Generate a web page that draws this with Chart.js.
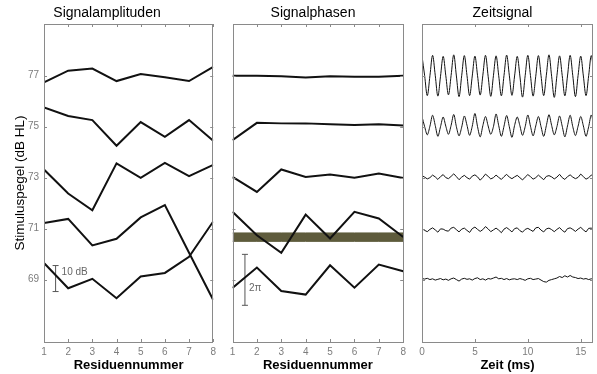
<!DOCTYPE html>
<html lang="de">
<head>
<meta charset="utf-8">
<script src="https://cdn.jsdelivr.net/npm/chart.js@4.4.1/dist/chart.umd.min.js"></script>
<style>
    html, body { margin: 0; padding: 0; background: #fff; }
    #wrap { position: relative; width: 597px; height: 374px; overflow: hidden; }
    canvas { position: absolute; top: 0; }
</style>
</head>
<body>
<div id="wrap">
    <canvas id="ampChart" width="220" height="374" style="left:0px"></canvas>
    <canvas id="phaseChart" width="188" height="374" style="left:222px"></canvas>
    <canvas id="zeitChart" width="185" height="374" style="left:412px"></canvas>
</div>
<script>
// Achsen
const residuen = [1, 2, 3, 4, 5, 6, 7, 8];
const pegelTicks = [69, 71, 73, 75, 77];
const zeitTicks = [0, 5, 10, 15];

// Signalamplituden (eine Kurve pro Pegel)
const amp77 = [76.74, 77.20, 77.28, 76.79, 77.07, 76.94, 76.79, 77.35];
const amp75 = [75.76, 75.42, 75.26, 74.25, 75.18, 74.60, 75.26, 74.45];
const amp73 = [73.32, 72.38, 71.72, 73.56, 72.99, 73.58, 73.06, 73.50];
const amp71 = [71.22, 71.38, 70.34, 70.60, 71.44, 71.92, 70.05, 68.20];
const amp69 = [69.65, 68.66, 69.03, 68.27, 69.12, 69.26, 69.89, 71.28];

// Signalphasen
const ph77 = [77.00, 77.00, 76.98, 76.93, 76.98, 76.96, 76.96, 77.00];
const ph75 = [74.47, 75.15, 75.13, 75.13, 75.10, 75.07, 75.10, 75.05];
const ph73 = [73.03, 72.44, 73.32, 73.03, 73.12, 73.00, 73.16, 72.99];
const ph71 = [71.66, 70.74, 70.05, 71.55, 70.61, 71.66, 71.40, 70.67];
const ph69 = [68.67, 69.47, 68.55, 68.41, 69.56, 68.68, 69.59, 69.33];

// Balken in den Phasen
const bandUnten = 70.50;
const bandOben = 70.83;

// Skalenbalken
const ampSkalaX = 1.48;
const ampSkala = [68.53, 69.55];
const phSkalaX = 1.51;
const phSkala = [67.99, 69.99];

// Zeitsignal (ms)
const zeitMs = [
    0, 0.25, 0.5, 0.75, 1, 1.25, 1.5, 1.75, 2, 2.25, 2.5, 2.75, 3, 3.25, 3.5, 3.75,
    4, 4.25, 4.5, 4.75, 5, 5.25, 5.5, 5.75, 6, 6.25, 6.5, 6.75, 7, 7.25, 7.5, 7.75,
    8, 8.25, 8.5, 8.75, 9, 9.25, 9.5, 9.75, 10, 10.25, 10.5, 10.75, 11, 11.25, 11.5, 11.75,
    12, 12.25, 12.5, 12.75, 13, 13.25, 13.5, 13.75, 14, 14.25, 14.5, 14.75, 15, 15.25, 15.5, 15.75,
    16, 16.25
];
const zeit77 = [
    77.78, 77.00, 76.22, 77.00, 77.80, 77.02, 76.20, 76.98, 77.76, 77.00, 76.25, 77.01, 77.82, 76.99, 76.18, 77.00,
    77.79, 77.01, 76.22, 76.99, 77.77, 77.00, 76.24, 77.02, 77.80, 76.98, 76.19, 77.00, 77.78, 77.00, 76.21, 77.01,
    77.81, 77.02, 76.23, 76.99, 77.76, 76.99, 76.16, 77.00, 77.80, 77.01, 76.20, 76.98, 77.79, 77.00, 76.22, 77.02,
    77.82, 76.98, 76.15, 77.00, 77.78, 77.01, 76.21, 76.99, 77.80, 77.00, 76.18, 77.01, 77.77, 76.99, 76.22, 77.00,
    77.79, 77.00
];
const zeit75 = [
    75.40, 75.00, 74.68, 75.02, 75.45, 75.05, 74.62, 75.00, 75.38, 75.02, 74.70, 75.05, 75.48, 75.00, 74.64, 74.98,
    75.42, 75.06, 74.66, 75.02, 75.52, 75.00, 74.60, 75.04, 75.40, 75.03, 74.70, 75.00, 75.50, 75.04, 74.62, 75.02,
    75.44, 75.00, 74.58, 75.05, 75.38, 75.04, 74.66, 75.00, 75.46, 75.02, 74.64, 75.03, 75.40, 75.00, 74.62, 75.04,
    75.47, 75.05, 74.68, 75.00, 75.42, 75.02, 74.60, 75.03, 75.45, 75.00, 74.65, 75.02, 75.40, 75.03, 74.62, 75.00,
    75.46, 75.02
];
const zeit73 = [
    73.08, 73.02, 72.95, 73.00, 73.10, 73.03, 72.93, 73.04, 73.12, 73.00, 72.96, 73.05, 73.15, 73.04, 72.92, 73.02,
    73.09, 73.00, 72.94, 73.06, 73.11, 73.03, 72.90, 73.01, 73.14, 73.05, 72.95, 73.00, 73.10, 73.01, 72.93, 73.04,
    73.13, 73.02, 72.96, 73.03, 73.09, 73.00, 72.91, 73.02, 73.12, 73.04, 72.94, 73.00, 73.10, 73.01, 72.92, 73.05,
    73.08, 73.03, 72.95, 73.02, 73.13, 73.00, 72.93, 73.04, 73.11, 73.02, 72.96, 73.01, 73.14, 73.04, 72.94, 73.00,
    73.10, 73.02
];
const zeit71 = [
    71.00, 70.93, 70.88, 70.97, 71.03, 70.95, 70.86, 70.99, 70.98, 70.92, 70.90, 71.02, 71.05, 70.96, 70.87, 70.98,
    71.02, 70.93, 70.85, 71.00, 71.06, 70.97, 70.89, 70.96, 71.08, 70.99, 70.88, 70.95, 71.02, 70.94, 70.84, 70.98,
    71.04, 70.96, 70.87, 71.00, 71.03, 70.92, 70.86, 70.97, 71.01, 70.95, 70.89, 71.03, 71.05, 70.94, 70.87, 70.99,
    71.02, 70.96, 70.88, 70.97, 71.04, 70.93, 70.86, 71.00, 71.03, 70.97, 70.89, 70.98, 71.05, 70.95, 70.87, 71.01,
    71.02, 70.94
];
const zeit69 = [
    69.04, 69.02, 69.05, 69.00, 69.03, 68.98, 69.01, 69.04, 68.99, 69.02, 68.97, 69.03, 69.06, 69.00, 68.94, 69.02,
    69.05, 69.01, 69.03, 68.98, 69.04, 69.07, 69.00, 69.03, 68.98, 69.04, 69.02, 69.06, 69.10, 69.03, 69.05, 69.00,
    69.04, 68.99, 69.02, 69.03, 69.00, 69.04, 69.01, 68.97, 69.03, 69.05, 69.00, 69.02, 69.04, 68.98, 68.92, 68.90,
    68.97, 69.00, 69.03, 69.06, 69.12, 69.08, 69.15, 69.10, 69.16, 69.10, 69.08, 69.04, 69.06, 69.02, 69.04, 69.00,
    69.03, 69.02
];

const schrift = "'Liberation Sans', Arial, Helvetica, sans-serif";
const grau = '#7c7c7c';
const yMin = 66.55;
const yMax = 79.03;

function setzeTicks(werte) {
    return scale => { scale.ticks = werte.map(v => ({ value: v })); };
}

function punkte(xs, ys) {
    return ys.map((y, i) => ({ x: xs[i], y }));
}

function kurve(xs, ys, breite, tension) {
    return {
        data: punkte(xs, ys),
        borderColor: '#111',
        borderWidth: breite,
        pointRadius: 0,
        tension: tension,
        fill: false
    };
}

function skalenBalken(x, werte) {
    return {
        data: werte.map(y => ({ x, y })),
        borderColor: '#555',
        borderWidth: 1,
        pointStyle: 'line',
        pointRadius: 3,
        pointBorderColor: '#555',
        pointBorderWidth: 1,
        fill: false
    };
}

// Rahmen, Innenticks und Beschriftung der Skalenbalken
const rahmenPlugin = {
    id: 'rahmen',
    afterDatasetsDraw(chart, args, opts) {
        const { ctx, chartArea: a, scales } = chart;
        ctx.save();
        ctx.strokeStyle = '#8a8a8a';
        ctx.lineWidth = 1;
        ctx.beginPath();
        opts.xTicks.forEach(v => {
            const px = Math.round(scales.x.getPixelForValue(v)) + 0.5;
            ctx.moveTo(px, a.top); ctx.lineTo(px, a.top + 3);
            ctx.moveTo(px, a.bottom); ctx.lineTo(px, a.bottom - 3);
        });
        pegelTicks.forEach(v => {
            const py = Math.round(scales.y.getPixelForValue(v)) + 0.5;
            ctx.moveTo(a.left, py); ctx.lineTo(a.left + 3, py);
            ctx.moveTo(a.right, py); ctx.lineTo(a.right - 3, py);
        });
        ctx.stroke();
        ctx.strokeRect(Math.round(a.left) + 0.5, Math.round(a.top) + 0.5,
            Math.round(a.width) - 1, Math.round(a.height));
        if (opts.text) {
            ctx.fillStyle = '#666';
            ctx.font = '10px ' + schrift;
            ctx.textBaseline = 'middle';
            ctx.fillText(opts.text, scales.x.getPixelForValue(opts.x) + opts.dx, scales.y.getPixelForValue(opts.y));
        }
        ctx.restore();
    }
};

function optionen(titel, xTitel, xMin, xMax, xTicks, yBreite, rechts, yTitel, beschriftung) {
    return {
        responsive: false,
        animation: false,
        devicePixelRatio: 1,
        layout: { padding: { left: 0, right: rechts, top: 0, bottom: 0 } },
        plugins: {
            legend: { display: false },
            tooltip: { enabled: false },
            title: {
                display: true,
                text: titel,
                color: '#000',
                font: { family: schrift, size: 14, weight: 'normal' },
                padding: { top: 5, bottom: 2.2 }
            },
            rahmen: Object.assign({ xTicks }, beschriftung || {})
        },
        scales: {
            x: {
                type: 'linear',
                min: xMin,
                max: xMax,
                afterBuildTicks: setzeTicks(xTicks),
                afterFit: s => { s.height = 32; },
                grid: { display: false, drawTicks: false },
                border: { display: false },
                ticks: {
                    color: grau,
                    font: { family: schrift, size: 10 },
                    padding: 4,
                    maxRotation: 0,
                    autoSkip: false
                },
                title: {
                    display: true,
                    text: xTitel,
                    color: '#000',
                    font: { family: schrift, size: 13, weight: 'bold' },
                    padding: { top: 0, bottom: 1 }
                }
            },
            y: {
                type: 'linear',
                min: yMin,
                max: yMax,
                afterBuildTicks: setzeTicks(pegelTicks),
                afterFit: s => { s.width = yBreite; },
                grid: { display: false, drawTicks: false },
                border: { display: false },
                ticks: {
                    display: !!yTitel,
                    color: grau,
                    font: { family: schrift, size: 10 },
                    padding: 5
                },
                title: {
                    display: !!yTitel,
                    text: yTitel || '',
                    color: '#000',
                    font: { family: schrift, size: 13.5, weight: 'normal' },
                    padding: { top: 12.4, bottom: 0 }
                }
            }
        }
    };
}

new Chart(document.getElementById('ampChart'), {
    type: 'line',
    data: {
        datasets: [amp77, amp75, amp73, amp71, amp69].map(w => kurve(residuen, w, 2, 0))
            .concat([skalenBalken(ampSkalaX, ampSkala)])
    },
    options: optionen('Signalamplituden', 'Residuennummer', 1, 8, residuen, 44, 6,
        'Stimuluspegel (dB HL)', { text: '10 dB', x: ampSkalaX, y: 69.3, dx: 6 }),
    plugins: [rahmenPlugin]
});

new Chart(document.getElementById('phaseChart'), {
    type: 'line',
    data: {
        datasets: [
            {
                data: residuen.map(x => ({ x, y: bandUnten })),
                borderColor: '#5e5b3c', borderWidth: 1, pointRadius: 0, fill: false, order: 5
            },
            {
                data: residuen.map(x => ({ x, y: bandOben })),
                borderColor: '#5e5b3c', borderWidth: 1, pointRadius: 0,
                fill: '-1', backgroundColor: '#5e5b3c', order: 5
            }
        ].concat([ph77, ph75, ph73, ph71, ph69].map(w => kurve(residuen, w, 2, 0)))
            .concat([skalenBalken(phSkalaX, phSkala)])
    },
    options: optionen('Signalphasen', 'Residuennummer', 1, 8, residuen, 10.5, 6,
        null, { text: '2\u03c0', x: phSkalaX, y: 68.67, dx: 4 }),
    plugins: [rahmenPlugin]
});

new Chart(document.getElementById('zeitChart'), {
    type: 'line',
    data: {
        datasets: [
            kurve(zeitMs, zeit77, 1, 0.35),
            kurve(zeitMs, zeit75, 1, 0.3),
            kurve(zeitMs, zeit73, 1, 0),
            kurve(zeitMs, zeit71, 1, 0),
            kurve(zeitMs, zeit69, 1, 0)
        ]
    },
    options: optionen('Zeitsignal', 'Zeit (ms)', 0, 16.16, zeitTicks, 10, 4, null, null),
    plugins: [rahmenPlugin]
});
</script>
</body>
</html>
